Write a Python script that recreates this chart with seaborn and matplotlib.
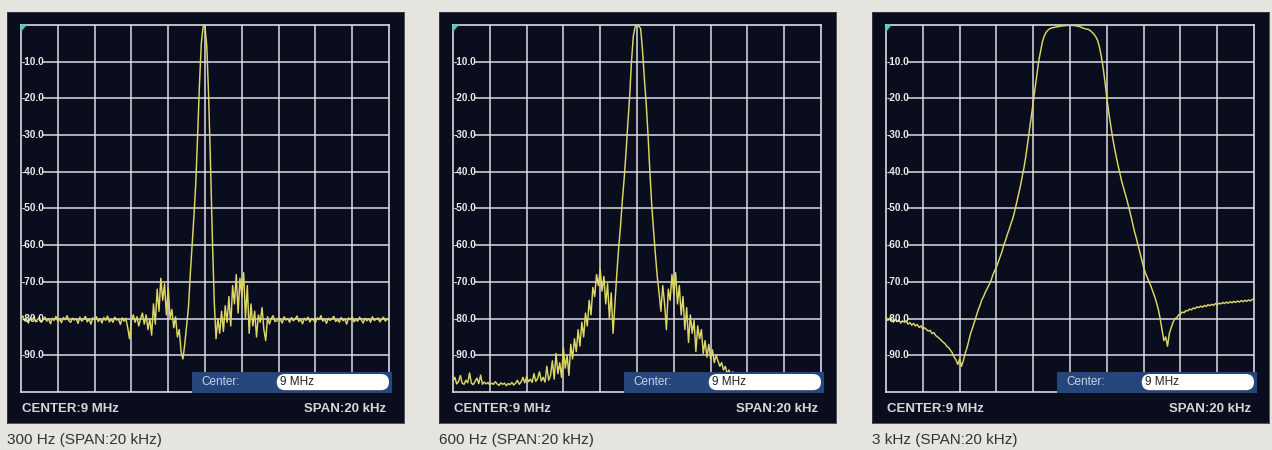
import numpy as np
import pandas as pd
import matplotlib.pyplot as plt
import seaborn as sns
from matplotlib.patches import Rectangle, FancyBboxPatch, Polygon

sns.set_style("dark")
plt.rcParams['font.family'] = ['Liberation Sans', 'DejaVu Sans']

# legendas e eixos
legendas = ['300 Hz (SPAN:20 kHz)', '600 Hz (SPAN:20 kHz)', '3 kHz (SPAN:20 kHz)']
centro = '9 MHz'
span_txt = 'SPAN:20 kHz'
niveis_db = [-10, -20, -30, -40, -50, -60, -70, -80, -90]
divisoes_khz = [-8, -6, -4, -2, 0, 2, 4, 6, 8]

traco_300 = [
    -80.0, -79.3, -80.6, -80.1, -81.2, -79.8, -80.4, -79.5, -80.9, -80.2,
    -79.7, -81.0, -80.3, -79.6, -80.7, -80.0, -81.4, -79.9, -80.5, -79.4,
    -80.8, -80.1, -81.1, -79.7, -80.3, -79.2, -80.6, -81.0, -79.9, -80.4,
    -80.0, -81.3, -79.6, -80.7, -80.2, -79.4, -80.9, -80.1, -81.5, -79.8,
    -80.3, -79.5, -80.8, -80.0, -81.2, -79.7, -80.5, -79.3, -80.9, -80.2,
    -81.0, -79.6, -80.4, -80.1, -81.6, -79.8, -80.7, -79.9, -82.5, -85.5,
    -80.5, -79.0, -81.0, -79.5, -82.0, -80.0, -78.5, -81.5, -79.0, -83.0,
    -80.0, -84.5, -76.0, -81.5, -72.0, -78.0, -69.0, -75.0, -70.5, -79.0,
    -71.5, -80.0, -77.5, -82.5, -79.5, -85.0, -83.0, -89.0, -91.0, -87.0,
    -82.0, -77.0, -68.0, -60.0, -52.0, -43.0, -30.0, -16.0, -5.0, -0.4,
    -0.4, -6.0, -20.0, -38.0, -58.0, -75.0, -85.5, -80.0, -84.0, -78.0,
    -83.5, -76.5, -81.0, -74.0, -82.0, -71.0, -76.0, -68.0, -78.5, -69.0,
    -74.0, -67.5, -80.0, -71.0, -84.0, -76.0, -82.0, -78.0, -85.0, -79.0,
    -81.0, -77.0, -83.0, -86.0, -79.5, -81.5, -80.0, -79.2, -80.8, -80.6,
    -79.8, -80.3, -81.2, -79.5, -80.4, -80.0, -81.0, -79.7, -80.6, -80.1,
    -79.3, -80.8, -80.2, -81.4, -79.9, -80.5, -79.6, -80.9, -80.0, -80.4,
    -81.1, -79.8, -80.3, -79.2, -80.7, -80.1, -81.3, -79.9, -80.5, -80.0,
    -79.4, -80.8, -80.3, -81.0, -79.7, -80.6, -80.1, -81.5, -79.8, -80.3,
    -79.5, -80.9, -80.2, -80.7, -79.6, -80.4, -81.2, -79.9, -80.6, -80.0,
    -81.0, -79.5, -80.5, -80.2, -79.8, -80.9, -80.3, -79.6, -80.7, -80.1,
    -80.4,
]

traco_600 = [
    -97.0, -96.0, -97.8, -97.2, -95.5, -97.6, -97.9, -96.8, -97.5, -94.8,
    -97.6, -98.0, -97.1, -96.2, -97.7, -95.4, -97.9, -97.3, -97.8, -97.4,
    -98.1, -97.6, -97.9, -97.2, -97.8, -98.2, -97.5, -97.9, -97.6, -98.3,
    -97.7, -98.0, -97.4, -98.1, -97.6, -96.8, -97.9, -97.3, -96.0, -97.5,
    -95.8, -97.2, -96.5, -97.4, -95.0, -97.1, -96.3, -94.5, -97.0, -96.0,
    -97.3, -93.0, -96.8, -95.5, -91.5, -96.5, -89.5, -95.0, -92.0, -96.0,
    -88.0, -93.5, -90.0, -95.5, -87.0, -91.0, -85.5, -89.0, -83.0, -87.5,
    -81.0, -85.0, -78.5, -82.0, -75.0, -79.0, -71.5, -74.0, -68.0, -71.0,
    -66.5, -72.5, -68.5, -76.0, -70.5, -80.0, -73.0, -84.0, -76.0, -68.0,
    -61.0, -55.0, -48.0, -42.0, -35.0, -27.0, -19.5, -10.0, -3.0, -0.5,
    -0.2, -0.3, -1.0, -7.0, -14.5, -21.5, -30.0, -40.0, -49.0, -56.0,
    -62.5, -68.5, -73.0, -78.0, -71.0, -76.0, -83.0, -72.0, -75.0, -68.0,
    -73.5, -67.5, -76.0, -71.0, -79.0, -74.0, -83.0, -77.0, -86.5, -79.0,
    -84.0, -80.5, -89.0, -82.0, -85.5, -83.0, -89.5, -86.0, -90.5, -87.0,
    -91.0, -88.5, -92.0, -90.0, -91.5, -93.0, -92.0, -94.0, -93.0, -95.0,
    -94.0, -95.5, -94.5, -96.0, -95.0, -96.5, -97.0, -96.6, -97.3, -97.0,
    -97.5, -97.2, -97.8, -97.4, -97.9, -97.6, -97.3, -97.8, -97.5, -97.9,
    -97.4, -97.7, -97.2, -97.8, -97.5, -97.9, -97.3, -97.6, -97.8, -97.4,
    -97.7, -97.3, -97.9, -97.5, -97.8, -97.2, -97.6, -97.9, -97.4, -97.7,
    -97.5, -97.8, -97.3, -97.6, -97.9, -97.4, -97.7, -97.5, -97.8, -97.6,
    -97.5,
]

traco_3k = [
    -79.5, -80.5, -79.8, -80.2, -81.0, -80.3, -80.8, -80.4, -81.2, -80.6,
    -81.0, -80.7, -81.5, -81.1, -81.8, -81.3, -82.0, -81.6, -82.4, -82.0,
    -82.8, -82.5, -83.0, -83.4, -83.2, -84.1, -83.8, -84.6, -85.0, -85.4,
    -85.9, -86.4, -86.8, -87.5, -87.9, -88.6, -89.3, -90.5, -91.2, -92.5,
    -91.0, -93.0, -91.5, -89.5, -88.0, -86.0, -84.0, -82.6, -81.0, -79.4,
    -77.8, -76.5, -75.0, -74.0, -72.8, -71.8, -70.8, -69.8, -68.2, -67.0,
    -66.0, -64.6, -63.2, -61.8, -60.0, -58.6, -57.0, -55.6, -54.0, -52.6,
    -50.6, -48.4, -46.2, -44.0, -41.4, -38.8, -35.8, -32.2, -28.6, -24.8,
    -21.0, -17.0, -13.2, -9.8, -7.2, -4.6, -3.0, -2.0, -1.4, -1.0,
    -0.8, -0.7, -0.6, -0.5, -0.4, -0.3, -0.25, -0.2, -0.15, -0.1,
    -0.1, -0.1, -0.15, -0.2, -0.3, -0.4, -0.6, -0.8, -1.0, -1.1,
    -1.2, -1.5, -2.0, -2.5, -3.2, -4.2, -6.0, -8.5, -11.6, -15.5,
    -19.8, -23.6, -27.0, -30.2, -33.0, -35.6, -38.0, -40.2, -42.4, -44.2,
    -46.0, -47.8, -49.8, -51.8, -54.0, -56.2, -58.0, -60.0, -62.0, -64.0,
    -66.0, -67.6, -68.8, -70.0, -71.2, -72.6, -74.0, -75.6, -77.5, -80.0,
    -83.0, -86.0, -85.0, -87.5, -84.0, -82.5, -81.0, -80.0, -79.8, -79.0,
    -78.8, -78.2, -78.4, -77.8, -77.9, -77.4, -77.6, -77.1, -77.3, -76.8,
    -77.0, -76.6, -76.9, -76.4, -76.7, -76.2, -76.5, -76.1, -76.4, -75.9,
    -76.2, -75.8, -76.0, -75.6, -75.9, -75.5, -75.8, -75.4, -75.7, -75.3,
    -75.6, -75.2, -75.5, -75.1, -75.4, -75.0, -75.3, -74.9, -75.2, -74.8,
    -74.6,
]

tracos = [traco_300, traco_600, traco_3k]

# cores
fundo = '#e6e4df'
tela = '#0a0d1d'
grade = '#dcdce0'
amarelo = '#dcd764'

W, H = 1272, 450
fig = plt.figure(figsize=(W / 100, H / 100), dpi=100, facecolor=fundo)

caixas = [7, 439, 872]  # borda esquerda de cada tela (px)

for bx, traco, legenda in zip(caixas, tracos, legendas):
    # moldura escura
    moldura = fig.add_axes([bx / W, 1 - 423 / H, 397 / W, 411 / H])
    moldura.set_facecolor(tela)
    moldura.set_xticks([])
    moldura.set_yticks([])
    for s in moldura.spines.values():
        s.set_color('#3a3d48')
        s.set_linewidth(0.6)

    ax = fig.add_axes([(bx + 14) / W, 1 - 392 / H, 368 / W, 367 / H])
    ax.set_facecolor(tela)
    ax.set_xlim(-10, 10)
    ax.set_ylim(-100, 0)
    ax.set_xticks([])
    ax.set_yticks([])
    for s in ax.spines.values():
        s.set_color(grade)
        s.set_linewidth(1.2)
        s.set_visible(True)

    for x in divisoes_khz:
        ax.axvline(x, color=grade, lw=1.1, zorder=1)
    for y in niveis_db:
        ax.axhline(y, xmin=0.06, color=grade, lw=1.1, zorder=1)

    df = pd.DataFrame({'freq': np.linspace(-10, 10, len(traco)), 'nivel': traco})
    sns.lineplot(data=df, x='freq', y='nivel', ax=ax, color=amarelo, lw=1.05,
                 legend=False, zorder=3)
    ax.set_xlabel('')
    ax.set_ylabel('')

    for y in niveis_db:
        ax.text(0.003, (y + 100) / 100, f'{y:.1f}', transform=ax.transAxes,
                ha='left', va='center', color='#ececec', fontsize=7.2,
                fontweight='bold', zorder=4)

    # marcador ciano no canto
    ax.add_patch(Polygon([(0, 1), (0.013, 1), (0, 0.984)], closed=True,
                         transform=ax.transAxes, color='#5cc8c0', zorder=5,
                         clip_on=False))

    # caixa "Center:"
    ax.add_patch(Rectangle((0.465, -0.003), 0.543, 0.058, transform=ax.transAxes,
                           facecolor='#24467c', edgecolor='none', zorder=6,
                           clip_on=False))
    ax.add_patch(FancyBboxPatch((0.695, 0.005), 0.305, 0.044,
                                boxstyle='round,pad=0,rounding_size=0.022',
                                transform=ax.transAxes, facecolor='white',
                                edgecolor='none', zorder=7, clip_on=False,
                                mutation_aspect=1))
    ax.text(0.49, 0.027, 'Center:', transform=ax.transAxes, ha='left',
            va='center', color='#c9d3e6', fontsize=8.5, zorder=8)
    ax.text(0.705, 0.027, centro, transform=ax.transAxes, ha='left',
            va='center', color='#222222', fontsize=8.5, zorder=8)

    fig.text((bx + 15) / W, 1 - 409 / H, 'CENTER:' + centro, color='#d6d6d6',
             fontsize=9.5, fontweight='bold', ha='left', va='center')
    fig.text((bx + 379) / W, 1 - 409 / H, span_txt, color='#d6d6d6',
             fontsize=9.5, fontweight='bold', ha='right', va='center')

    fig.text(bx / W, 1 - 440 / H, legenda, color='#333333', fontsize=11,
             ha='left', va='center')

plt.savefig('out.png', dpi=100, facecolor=fundo)
